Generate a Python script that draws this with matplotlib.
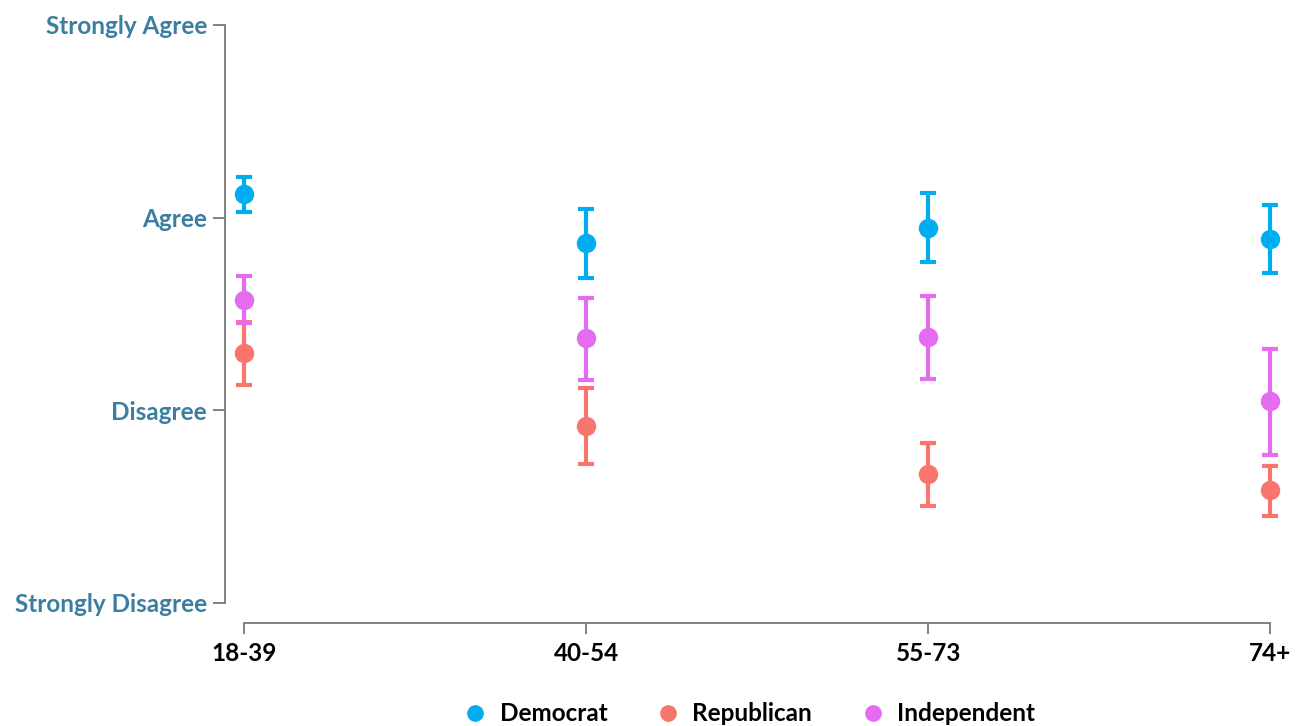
import matplotlib
matplotlib.use("Agg")
import matplotlib.pyplot as plt
from matplotlib.lines import Line2D

plt.rcParams['font.family'] = ['Lato', 'DejaVu Sans']

ages = ['18-39', '40-54', '55-73', '74+']
levels = ['Strongly Disagree', 'Disagree', 'Agree', 'Strongly Agree']

# mean and 95% interval bounds (1 = Strongly Disagree ... 4 = Strongly Agree)
dem_mean = [3.124, 2.870, 2.948, 2.891]
dem_low = [3.031, 2.689, 2.772, 2.715]
dem_high = [3.212, 3.047, 3.130, 3.067]

rep_mean = [2.295, 1.917, 1.668, 1.585]
rep_low = [2.130, 1.720, 1.503, 1.451]
rep_high = [2.456, 2.114, 1.829, 1.710]

ind_mean = [2.575, 2.373, 2.378, 2.047]
ind_low = [2.451, 2.155, 2.161, 1.767]
ind_high = [2.699, 2.585, 2.591, 2.316]

parties = ['Democrat', 'Republican', 'Independent']
colors = ['#00AEEF', '#F8766D', '#E56BF0']

fig = plt.figure(figsize=(12.99, 7.26), dpi=100)
ax = fig.add_axes([0.1732, 0.1419, 0.820, 0.825])

x = list(range(len(ages)))
series = [(dem_mean, dem_low, dem_high), (rep_mean, rep_low, rep_high),
          (ind_mean, ind_low, ind_high)]
for name, col, (m, lo, hi) in zip(parties, colors, series):
    err = [[a - b for a, b in zip(m, lo)], [c - a for a, c in zip(m, hi)]]
    ax.errorbar(x, m, yerr=err, fmt='o', color=col, ecolor=col, markersize=13,
                elinewidth=3, capsize=5.5, capthick=3, label=name)

ax.set_xlim(-0.0556, 3.058)
ax.set_ylim(0.896, 4.005)
ax.set_xticks(x)
ax.set_xticklabels(ages, fontsize=17.5, fontweight='bold', color='black')
ax.set_yticks([1, 2, 3, 4])
ax.set_yticklabels(levels, fontsize=17.5, fontweight='bold', color='#3B7EA1')

for s in ['top', 'right']:
    ax.spines[s].set_visible(False)
ax.spines['left'].set_bounds(1, 4)
ax.spines['bottom'].set_bounds(0, 3)
for s in ['left', 'bottom']:
    ax.spines[s].set_color('#777777')
    ax.spines[s].set_linewidth(1.3)
ax.tick_params(axis='y', length=9, width=1.3, color='#777777', pad=4)
ax.tick_params(axis='x', length=8, width=1.3, color='#777777', pad=6)

handles = [Line2D([], [], marker='o', linestyle='', color=c, markersize=11)
           for c in colors]
leg = ax.legend(handles, parties, loc='upper center', bbox_to_anchor=(0.491, -0.116),
                ncol=3, frameon=False, fontsize=17.5, handletextpad=0.4,
                columnspacing=1.9, handlelength=1.2, borderaxespad=0)
for t in leg.get_texts():
    t.set_fontweight('bold')

fig.savefig('out.png', dpi=100)
